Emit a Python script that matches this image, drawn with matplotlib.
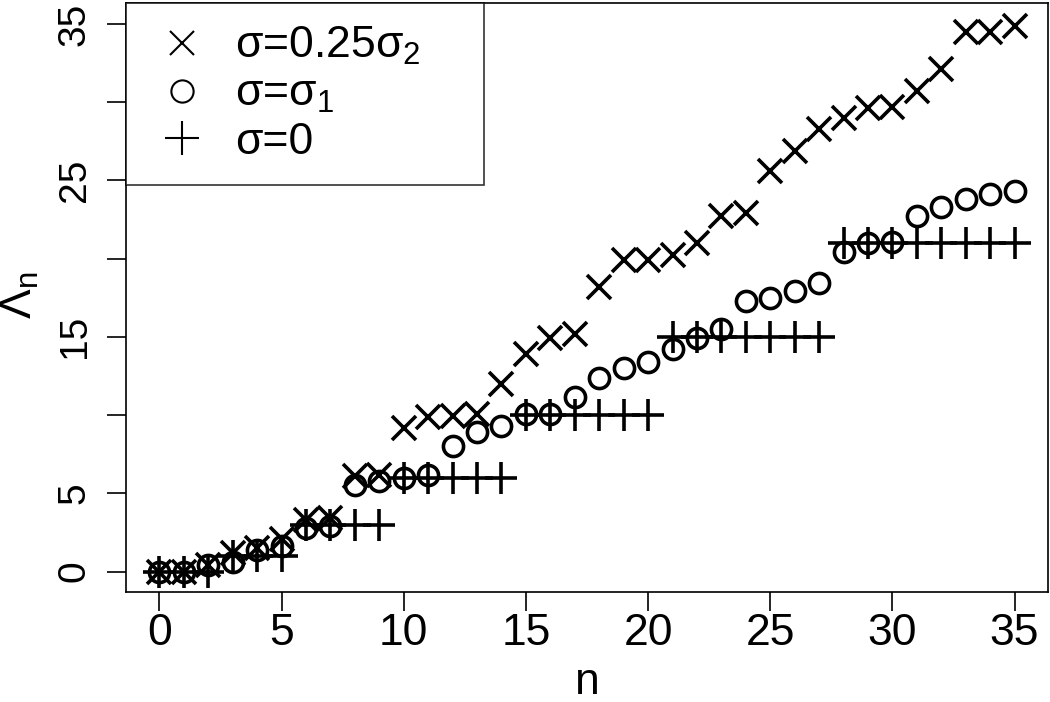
import matplotlib.pyplot as plt
from matplotlib.lines import Line2D

plt.rcParams['font.family'] = ['Liberation Sans', 'DejaVu Sans']
plt.rcParams['mathtext.fontset'] = 'custom'
plt.rcParams['mathtext.rm'] = 'Liberation Sans'
plt.rcParams['mathtext.it'] = 'Liberation Sans'

n = list(range(36))

# sigma = 0.25 sigma_2
lam_quarter = [0, 0, 0.4, 1.2, 1.5, 2.1, 3.3, 3.4, 6.1, 6.2,
               9.2, 9.85, 9.95, 10.1, 12.0, 13.9, 14.9, 15.2, 18.2, 19.9,
               19.9, 20.2, 21.0, 22.7, 22.9, 25.6, 26.9, 28.3, 29.0, 29.6,
               29.7, 30.7, 32.1, 34.5, 34.5, 34.9]
# sigma = sigma_1
lam_s1 = [0, 0, 0.4, 0.6, 1.4, 1.6, 2.8, 2.9, 5.5, 5.8,
          6.0, 6.2, 8.0, 8.9, 9.3, 10.1, 10.1, 11.15, 12.4, 13.0,
          13.4, 14.25, 14.95, 15.5, 17.3, 17.5, 17.9, 18.45, 20.4, 21.0,
          21.05, 22.75, 23.3, 23.8, 24.1, 24.3]
# sigma = 0
lam_zero = [0, 0, 0, 1, 1, 1, 3, 3, 3, 3,
            6, 6, 6, 6, 6, 10, 10, 10, 10, 10,
            10, 15, 15, 15, 15, 15, 15, 15, 21, 21,
            21, 21, 21, 21, 21, 21]

fig = plt.figure(figsize=(10.5, 7.02), dpi=100)
W, H = 1050, 702
ax = fig.add_axes([126 / W, 1 - 592 / H, (1048 - 126) / W, (592 - 3) / H])

ax.plot(n, lam_zero, ls='none', marker='+', ms=23, mew=2.6, color='black')
ax.plot(n, lam_s1, ls='none', marker='o', ms=14.5, mew=2.6, mfc='none', color='black')
ax.plot(n, lam_quarter, ls='none', marker='x', ms=17, mew=2.6, color='black')

ax.set_xlim(-1.37, 36.37)
ax.set_ylim(-1.31, 36.34)

ax.set_xticks(range(0, 36, 5))
ax.set_yticks(range(0, 36, 5))
ax.set_yticklabels(['0', '5', '', '15', '', '25', '', '35'])
ax.tick_params(axis='x', length=14, width=1.2, labelsize=32, pad=1)
ax.tick_params(axis='y', length=14, width=1.2, labelsize=28, pad=10, labelrotation=90)
for lab in ax.get_yticklabels():
    lab.set_va('center')
for sp in ax.spines.values():
    sp.set_linewidth(1.2)

ax.set_xlabel('n', fontsize=32, labelpad=6)
fig.text(20 / W, 1 - 295 / H, r'Λ$_{\mathrm{n}}$', fontsize=32, rotation=90,
         ha='center', va='center')

handles = [
    Line2D([], [], ls='none', marker='x', ms=17, mew=1.5, color='black'),
    Line2D([], [], ls='none', marker='o', ms=16, mew=1.5, mfc='none', color='black'),
    Line2D([], [], ls='none', marker='+', ms=25, mew=1.5, color='black'),
]
labels = [r'σ=0.25σ$_{\mathrm{2}}$', r'σ=σ$_{\mathrm{1}}$', 'σ=0']
leg_w = (484 - 126) / (1048 - 126)
leg_h = (183 - 3) / (592 - 3)
leg = ax.legend(handles, labels, loc='upper left',
                bbox_to_anchor=(0, 1 - leg_h, leg_w, leg_h), mode='expand',
                fontsize=32, frameon=True, fancybox=False, edgecolor='black',
                borderpad=0.5, labelspacing=0.15, handletextpad=0.45,
                handlelength=1.5, borderaxespad=0)
leg.get_frame().set_linewidth(1.2)

fig.savefig('out.png', dpi=100)
